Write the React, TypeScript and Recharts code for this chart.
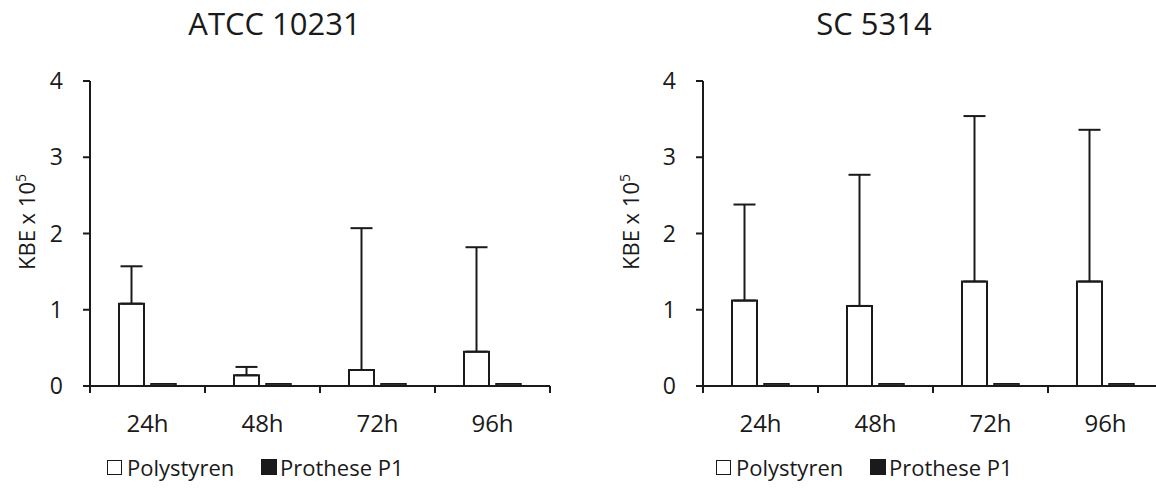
import React from 'react';
import { BarChart, Bar, XAxis, YAxis, ErrorBar } from 'recharts';

// categories + values (KBE x 10^5)
const times = ['24h', '48h', '72h', '96h'];
const yTicks = [0, 1, 2, 3, 4];

const atccPoly = [1.08, 0.14, 0.21, 0.45];
const atccPolySd = [0.49, 0.11, 1.86, 1.37];
const atccProt = [0.03, 0.03, 0.03, 0.03];

const scPoly = [1.12, 1.05, 1.37, 1.37];
const scPolySd = [1.26, 1.72, 2.17, 1.99];
const scProt = [0.03, 0.03, 0.03, 0.03];

const INK = '#1a1a1a';
const FONT = '"Open Sans", sans-serif';
const PLOT_W = 460;
const BAND = PLOT_W / times.length;

const XTick = (props: any) => {
  const { x, y, payload, index } = props;
  const half = BAND / 2;
  return (
    <g>
      <line x1={x - half} y1={y} x2={x - half} y2={y + 7} stroke={INK} strokeWidth={2} />
      {index === times.length - 1 && (
        <line x1={x + half} y1={y} x2={x + half} y2={y + 7} stroke={INK} strokeWidth={2} />
      )}
      <text x={x} y={y + 46} textAnchor="middle" fontSize={24} fontFamily={FONT} fill={INK}>
        {payload.value}
      </text>
    </g>
  );
};

interface PanelProps {
  title: string;
  poly: number[];
  polySd: number[];
  prot: number[];
  left: number;
  width: number;
  marginLeft: number;
  titleX: number;
  labelX: number;
  legendX: number;
}

const legendText: React.CSSProperties = {
  position: 'absolute', top: 456, fontSize: 22, lineHeight: 1, fontFamily: FONT, color: INK, whiteSpace: 'nowrap',
};

const Panel: React.FC<PanelProps> = ({ title, poly, polySd, prot, left, width, marginLeft, titleX, labelX, legendX }) => {
  const data = times.map((t, i) => ({
    time: t,
    poly: poly[i],
    polyErr: [0, polySd[i]],
    prot: prot[i],
  }));
  const marginRight = width - marginLeft - 90 - PLOT_W;

  return (
    <>
      <div style={{ position: 'absolute', left: left, top: 0 }}>
        <BarChart
          width={width}
          height={494}
          data={data}
          barGap={7}
          margin={{ top: 81, right: marginRight, left: marginLeft, bottom: 68 }}
        >
          <XAxis
            dataKey="time"
            height={40}
            tickSize={0}
            tickMargin={0}
            interval={0}
            tick={<XTick />}
            axisLine={{ stroke: INK, strokeWidth: 2 }}
          />
          <YAxis
            width={90}
            domain={[0, 4]}
            ticks={yTicks}
            tickSize={7}
            tickMargin={20}
            axisLine={{ stroke: INK, strokeWidth: 2 }}
            tickLine={{ stroke: INK, strokeWidth: 2 }}
            tick={{ fontSize: 23, fontFamily: FONT, fill: INK }}
          />
          <Bar dataKey="poly" fill="#ffffff" stroke={INK} strokeWidth={2} barSize={25} isAnimationActive={false}>
            <ErrorBar dataKey="polyErr" direction="y" width={11} stroke={INK} strokeWidth={2} isAnimationActive={false} />
          </Bar>
          <Bar dataKey="prot" fill="#444" stroke={INK} strokeWidth={1.5} barSize={25} isAnimationActive={false} />
        </BarChart>
      </div>

      {/* title */}
      <div
        style={{
          position: 'absolute', left: titleX - 150, width: 300, top: 7.5, textAlign: 'center',
          fontSize: 31, lineHeight: 1, fontFamily: FONT, color: INK,
        }}
      >
        {title}
      </div>

      {/* y axis label */}
      <div
        style={{
          position: 'absolute', left: labelX, top: 222, transform: 'translate(-50%, -50%) rotate(-90deg)',
          whiteSpace: 'nowrap', fontSize: 22, lineHeight: 1, fontFamily: FONT, color: INK,
        }}
      >
        KBE x 10<span style={{ fontSize: 14, position: 'relative', top: -9 }}>5</span>
      </div>

      {/* legend */}
      <div style={{ position: 'absolute', left: legendX, top: 460, width: 15, height: 15, boxSizing: 'border-box', border: `1.5px solid ${INK}`, background: '#fff' }} />
      <div style={{ ...legendText, left: legendX + 20 }}>Polystyren</div>
      <div style={{ position: 'absolute', left: legendX + 154, top: 459, width: 16, height: 16, background: INK }} />
      <div style={{ ...legendText, left: legendX + 173 }}>Prothese P1</div>
    </>
  );
};

export default function App() {
  return (
    <div
      style={{
        position: 'absolute', left: 0, top: 0, width: 1156, height: 494,
        overflow: 'hidden', background: '#fff',
      }}
    >
      <Panel
        title="ATCC 10231"
        poly={atccPoly}
        polySd={atccPolySd}
        prot={atccProt}
        left={0}
        width={578}
        marginLeft={0}
        titleX={274.5}
        labelX={26}
        legendX={107}
      />
      <Panel
        title="SC 5314"
        poly={scPoly}
        polySd={scPolySd}
        prot={scProt}
        left={578}
        width={600}
        marginLeft={35}
        titleX={874}
        labelX={630}
        legendX={716}
      />
    </div>
  );
}
